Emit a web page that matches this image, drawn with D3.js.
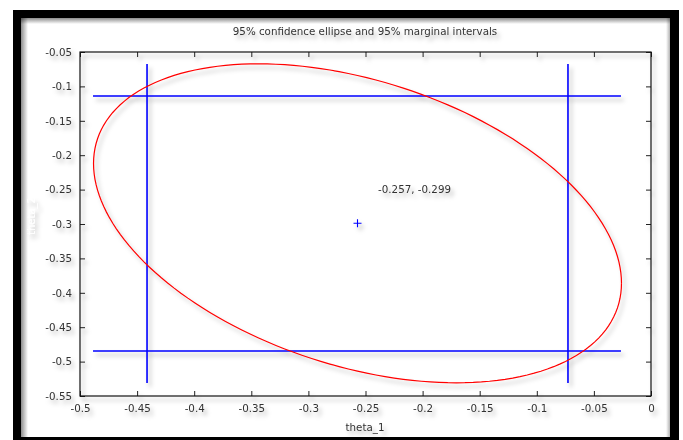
<!DOCTYPE html>
<html>
<head>
<meta charset="utf-8">
<script src="https://cdn.jsdelivr.net/npm/d3@7"></script>
<style>
  body { margin: 0; background: #fff; }
  svg { display: block; font-family: "DejaVu Sans", Verdana, sans-serif; }
  .tick-label { font-family: "DejaVu Sans", Verdana, sans-serif; font-size: 10.3px; fill: #333; }
</style>
</head>
<body>
<svg id="chart" width="683" height="440"></svg>
<script>
// values
const xTicks = [-0.5, -0.45, -0.4, -0.35, -0.3, -0.25, -0.2, -0.15, -0.1, -0.05, 0];
const yTicks = [-0.55, -0.5, -0.45, -0.4, -0.35, -0.3, -0.25, -0.2, -0.15, -0.1, -0.05];
const center = [-0.257, -0.299];
const xInterval = [-0.4413, -0.0727];   // 95% marginal interval of theta_1
const yInterval = [-0.4846, -0.114];    // 95% marginal interval of theta_2
const ellipseX = [-0.4886, -0.0263];    // horizontal extent of the ellipse
const ellipseY = [-0.531, -0.0674];     // vertical extent of the ellipse
const rho = -0.375;                     // correlation (tilt of ellipse)
const labelPos = [-0.239, -0.249];

const svg = d3.select('#chart');

// picture frame
svg.append('rect').attr('x', 13).attr('y', 10).attr('width', 666).attr('height', 430).attr('fill', '#000');
svg.append('rect').attr('x', 21).attr('y', 18).attr('width', 649).attr('height', 419).attr('fill', '#fff');

let defs = svg.append('defs');
let gl = defs.append('linearGradient').attr('id', 'shL').attr('x1', 0).attr('x2', 1).attr('y1', 0).attr('y2', 0);
gl.append('stop').attr('offset', 0).attr('stop-color', '#000').attr('stop-opacity', 0.45);
gl.append('stop').attr('offset', 1).attr('stop-color', '#000').attr('stop-opacity', 0);
let gt = defs.append('linearGradient').attr('id', 'shT').attr('x1', 0).attr('x2', 0).attr('y1', 0).attr('y2', 1);
gt.append('stop').attr('offset', 0).attr('stop-color', '#000').attr('stop-opacity', 0.45);
gt.append('stop').attr('offset', 1).attr('stop-color', '#000').attr('stop-opacity', 0);
let gr = defs.append('linearGradient').attr('id', 'shR').attr('x1', 1).attr('x2', 0).attr('y1', 0).attr('y2', 0);
gr.append('stop').attr('offset', 0).attr('stop-color', '#000').attr('stop-opacity', 0.3);
gr.append('stop').attr('offset', 1).attr('stop-color', '#000').attr('stop-opacity', 0);
svg.append('rect').attr('x', 21).attr('y', 18).attr('width', 7).attr('height', 419).attr('fill', 'url(#shL)');
svg.append('rect').attr('x', 21).attr('y', 18).attr('width', 649).attr('height', 6).attr('fill', 'url(#shT)');
svg.append('rect').attr('x', 666).attr('y', 18).attr('width', 4).attr('height', 419).attr('fill', 'url(#shR)');

// soft drop shadow used on everything in the plot
let f = defs.append('filter').attr('id', 'shadow').attr('x', '-20%').attr('y', '-20%').attr('width', '140%').attr('height', '140%');
f.append('feDropShadow').attr('dx', 3).attr('dy', 4).attr('stdDeviation', 2.2)
  .attr('flood-color', '#000').attr('flood-opacity', 0.28);

const margin = { left: 80, top: 52, right: 32, bottom: 44 };
const width = 651 - margin.left;
const height = 396 - margin.top;

const x = d3.scaleLinear().domain([-0.5, 0]).range([0, width]);
const y = d3.scaleLinear().domain([-0.55, -0.05]).range([height, 0]);

const g = svg.append('g')
  .attr('transform', `translate(${margin.left},${margin.top})`)
  .attr('filter', 'url(#shadow)');

const fmt = (v) => String(+v.toFixed(2));

// axes with inward ticks on all four sides
g.append('g').attr('transform', `translate(0,${height})`)
  .call(d3.axisBottom(x).tickValues(xTicks).tickSize(-5).tickPadding(9).tickFormat(fmt));
g.append('g')
  .call(d3.axisTop(x).tickValues(xTicks).tickSize(-5).tickFormat(''));
g.append('g')
  .call(d3.axisLeft(y).tickValues(yTicks).tickSize(-5).tickPadding(8).tickFormat(fmt));
g.append('g').attr('transform', `translate(${width},0)`)
  .call(d3.axisRight(y).tickValues(yTicks).tickSize(-5).tickFormat(''));

g.selectAll('.domain').remove();
g.selectAll('.tick line').attr('stroke', '#222');
g.selectAll('.tick text').attr('class', 'tick-label').attr('font-family', null).attr('font-size', null).attr('fill', null);

g.append('rect').attr('width', width).attr('height', height)
  .attr('fill', 'none').attr('stroke', '#111').attr('stroke-width', 1.2);

// marginal intervals
g.selectAll('.hline').data(yInterval).join('line').attr('class', 'hline')
  .attr('x1', x(ellipseX[0])).attr('x2', x(ellipseX[1]))
  .attr('y1', (d) => y(d)).attr('y2', (d) => y(d))
  .attr('stroke', '#0000ff').attr('stroke-width', 1.6);
g.selectAll('.vline').data(xInterval).join('line').attr('class', 'vline')
  .attr('x1', (d) => x(d)).attr('x2', (d) => x(d))
  .attr('y1', y(ellipseY[0])).attr('y2', y(ellipseY[1]))
  .attr('stroke', '#0000ff').attr('stroke-width', 1.6);

// confidence ellipse from its bounding box and correlation
const ax = (ellipseX[1] - ellipseX[0]) / 2;
const ay = (ellipseY[1] - ellipseY[0]) / 2;
const angles = d3.range(0, 2 * Math.PI + 0.01, Math.PI / 90);
const pts = angles.map((t) => [
  center[0] + ax * Math.cos(t),
  center[1] + ay * (rho * Math.cos(t) + Math.sqrt(1 - rho * rho) * Math.sin(t))
]);
g.append('path')
  .attr('d', d3.line().x((d) => x(d[0])).y((d) => y(d[1]))(pts))
  .attr('fill', 'none').attr('stroke', '#ff0000').attr('stroke-width', 1.2);

// centre marker and label
g.append('path')
  .attr('d', `M${x(center[0]) - 4},${y(center[1])}h8M${x(center[0])},${y(center[1]) - 4}v8`)
  .attr('stroke', '#0000ff').attr('stroke-width', 1.1);
g.append('text').attr('class', 'tick-label')
  .attr('x', x(labelPos[0])).attr('y', y(labelPos[1]))
  .attr('dy', '0.35em')
  .text(`${center[0]}, ${center[1]}`);

// titles
g.append('text').attr('class', 'tick-label')
  .attr('x', width / 2 - 0.5).attr('y', -17)
  .attr('text-anchor', 'middle')
  .text('95% confidence ellipse and 95% marginal intervals');
g.append('text').attr('class', 'tick-label')
  .attr('x', width / 2 - 0.5).attr('y', height + 35)
  .attr('text-anchor', 'middle')
  .text('theta_1');
g.append('text')
  .attr('transform', `translate(-45,${height / 2 - 8}) rotate(-90)`)
  .attr('text-anchor', 'middle')
  .attr('font-size', 10).attr('fill', '#fff')
  .text('theta_2');
</script>
</body>
</html>
